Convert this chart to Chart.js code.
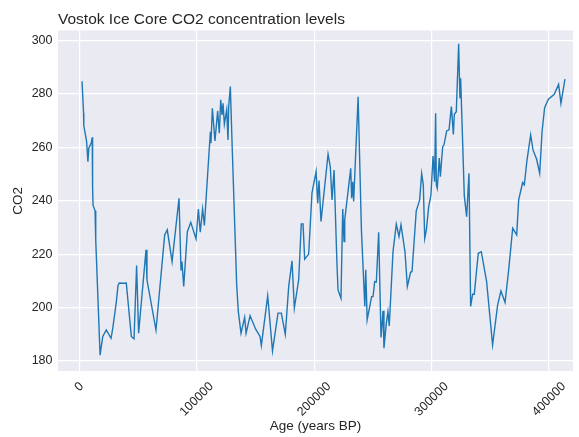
<!DOCTYPE html>
<html>
<head>
<meta charset="utf-8">
<script src="https://cdn.jsdelivr.net/npm/chart.js@4/dist/chart.umd.min.js"></script>
<style>
  html, body { margin: 0; padding: 0; background: #ffffff; }
  #wrap { width: 579px; height: 437px; position: relative; }
</style>
</head>
<body>
<div id="wrap"><canvas id="chart"></canvas></div>
<script>
// Mean gas age (years before present) of each ice-core sample
const ages = [
  2342, 3634, 3833, 6220, 7327, 8113, 10123, 11013, 11326, 11719,
  13405, 13989, 17695, 19988, 22977, 27008, 28310, 31500, 32931, 34000,
  37000, 40000, 44300, 46600, 48800, 50500, 56800, 57600, 65300, 72700,
  74900, 79000, 84900, 86600, 87400, 88900, 92000, 94900, 99400, 101400,
  103000, 105000, 106500, 108700, 111600, 112100, 113300, 115500, 117800, 119200,
  120400, 121500, 122400, 123500, 125500, 126600, 127200, 128600, 130300, 134000,
  135400, 137700, 140800, 142000, 145400, 150200, 153900, 155000, 160400, 164500,
  169200, 172000, 175400, 178300, 181100, 183100, 186800, 189000, 190500, 191900,
  195300, 198100, 201600, 203000, 204100, 205800, 211800, 213700, 215200, 216900,
  219400, 220300, 222800, 224300, 225400, 226000, 231100, 231900, 232800, 233600,
  237400, 240200, 243100, 243900, 245100, 248900, 250100, 251500, 252900, 254900,
  256900, 258600, 259400, 261400, 262800, 263900, 267100, 269900, 272200, 273900,
  277300, 279300, 282100, 283300, 286900, 289800, 291500, 292900, 294100, 295500,
  297500, 299400, 301200, 302500, 303400, 304000, 304800, 306500, 307400, 309400,
  310500, 312800, 314800, 316800, 318500, 319300, 321000, 323000, 324100, 324700,
  327800, 329800, 331800, 333200, 334900, 336300, 339700, 342300, 346800, 351900,
  356200, 359000, 362500, 365600, 369000, 372400, 374100, 377500, 378900, 381200,
  384300, 386300, 389400, 392000, 394000, 396200, 399400, 404400, 408100, 410100,
  413500
];

// CO2 concentration (ppmv) of each sample
const co2 = [
  284.7, 272.8, 268.1, 262.2, 254.6, 259.6, 261.6, 263.7, 244.8, 238.3,
  236.2, 225.3, 182.2, 189.2, 191.6, 188.5, 191.7, 202.0, 208.2, 209.2,
  209.1, 209.2, 189.2, 188.3, 215.7, 190.4, 221.6, 210.4, 191.6, 227.2,
  229.1, 217.2, 240.9, 214.1, 217.2, 207.9, 228.4, 231.9, 225.7, 236.9,
  228.2, 236.9, 230.7, 245.9, 265.8, 261.5, 274.6, 262.3, 273.6, 265.2,
  277.7, 272.1, 276.4, 268.6, 274.0, 262.7, 275.2, 282.7, 258.4, 208.5,
  198.5, 190.4, 196.3, 190.4, 196.9, 191.9, 189.2, 185.8, 204.4, 183.8,
  197.9, 197.9, 190.0, 207.9, 217.5, 199.8, 210.4, 231.3, 231.3, 218.1,
  220.0, 242.8, 250.9, 239.0, 247.5, 232.2, 257.4, 252.7, 240.3, 251.5,
  216.0, 206.6, 203.5, 236.9, 224.7, 232.8, 252.1, 240.9, 247.1, 239.7,
  278.9, 229.1, 200.4, 214.1, 195.4, 204.1, 204.1, 209.7, 209.5, 228.2,
  188.8, 198.8, 184.8, 194.1, 198.5, 193.1, 220.9, 231.2, 226.6, 231.0,
  220.9, 207.9, 213.2, 213.5, 236.2, 240.3, 250.1, 245.9, 225.9, 229.1,
  237.8, 242.1, 256.7, 247.1, 272.7, 245.9, 244.6, 255.9, 249.0, 260.2,
  260.8, 266.1, 266.5, 275.2, 264.8, 272.3, 273.3, 298.7, 278.3, 285.8,
  241.9, 234.0, 250.2, 200.4, 205.0, 205.0, 220.3, 220.9, 209.7, 186.0,
  201.0, 206.2, 201.9, 214.1, 229.7, 227.2, 240.3, 246.8, 245.9, 255.2,
  264.6, 259.0, 255.5, 250.2, 265.8, 274.8, 278.0, 279.8, 283.5, 276.4,
  285.5
];

const xTicks = [0, 100000, 200000, 300000, 400000];
const yTicks = [180, 200, 220, 240, 260, 280, 300];

const titleText = 'Vostok Ice Core CO2 concentration levels';
const xTitle = 'Age (years BP)';
const yTitle = 'CO2';

const FONT = '"Liberation Sans", Arial, Helvetica, sans-serif';
const TEXT = '#262626';
const FACE = '#EAEAF2';
const LINE = '#1f77b4';

// shaded plotting area behind the grid
const areaBg = {
  id: 'areaBg',
  beforeDraw(chart) {
    const { ctx, chartArea: a } = chart;
    ctx.save();
    ctx.fillStyle = FACE;
    ctx.fillRect(a.left, a.top, a.right - a.left, a.bottom - a.top);
    ctx.restore();
  }
};

// title, axis titles and the rotated age labels
const texts = {
  id: 'texts',
  afterDraw(chart) {
    const { ctx, chartArea: a } = chart;
    const xs = chart.scales.x;
    ctx.save();
    ctx.fillStyle = TEXT;

    ctx.font = '15.5px ' + FONT;
    ctx.textAlign = 'left';
    ctx.textBaseline = 'alphabetic';
    ctx.fillText(titleText, a.left, 23.5);

    // age labels: rotated 45 degrees, box centred on the tick
    ctx.font = '12.5px ' + FONT;
    ctx.textAlign = 'center';
    ctx.textBaseline = 'middle';
    const s = Math.SQRT1_2;
    xTicks.forEach(v => {
      const label = String(v);
      const w = ctx.measureText(label).width;
      const h = 14;
      const px = xs.getPixelForValue(v);
      const cy = a.bottom + 8.5 + (w + h) * s / 2;
      ctx.save();
      ctx.translate(px, cy);
      ctx.rotate(-Math.PI / 4);
      ctx.fillText(label, 0, 0);
      ctx.restore();
    });

    ctx.font = '13.5px ' + FONT;
    ctx.textAlign = 'center';
    ctx.textBaseline = 'middle';
    ctx.fillText(xTitle, (a.left + a.right) / 2, 426);

    ctx.save();
    ctx.translate(18, (a.top + a.bottom) / 2);
    ctx.rotate(-Math.PI / 2);
    ctx.fillText(yTitle, 0, 0);
    ctx.restore();

    ctx.restore();
  }
};

const points = ages.map((a, i) => ({ x: a, y: co2[i] }));

new Chart(document.getElementById('chart'), {
  type: 'line',
  data: {
    datasets: [{
      data: points,
      borderColor: LINE,
      borderWidth: 1.4,
      pointRadius: 0,
      tension: 0,
      fill: false
    }]
  },
  options: {
    responsive: true,
    maintainAspectRatio: false,
    devicePixelRatio: 1,
    animation: false,
    events: [],
    layout: { padding: { left: 0, right: 6, top: 30.5, bottom: 0 } },
    plugins: { legend: { display: false }, tooltip: { enabled: false }, title: { display: false } },
    scales: {
      x: {
        type: 'linear',
        min: -18135,
        max: 420358,
        afterBuildTicks: s => { s.ticks = xTicks.map(v => ({ value: v })); },
        afterFit: s => { s.height = 66; },
        ticks: { display: false },
        grid: { color: '#ffffff', lineWidth: 1.2, drawTicks: false },
        border: { display: false }
      },
      y: {
        type: 'linear',
        min: 176.26,
        max: 303.67,
        afterBuildTicks: s => { s.ticks = yTicks.map(v => ({ value: v })); },
        afterFit: s => { s.width = 58; },
        ticks: {
          color: TEXT,
          font: { family: FONT, size: 12.5 },
          padding: 5.5
        },
        grid: { color: '#ffffff', lineWidth: 1.2, drawTicks: false },
        border: { display: false }
      }
    }
  },
  plugins: [areaBg, texts]
});
</script>
</body>
</html>
